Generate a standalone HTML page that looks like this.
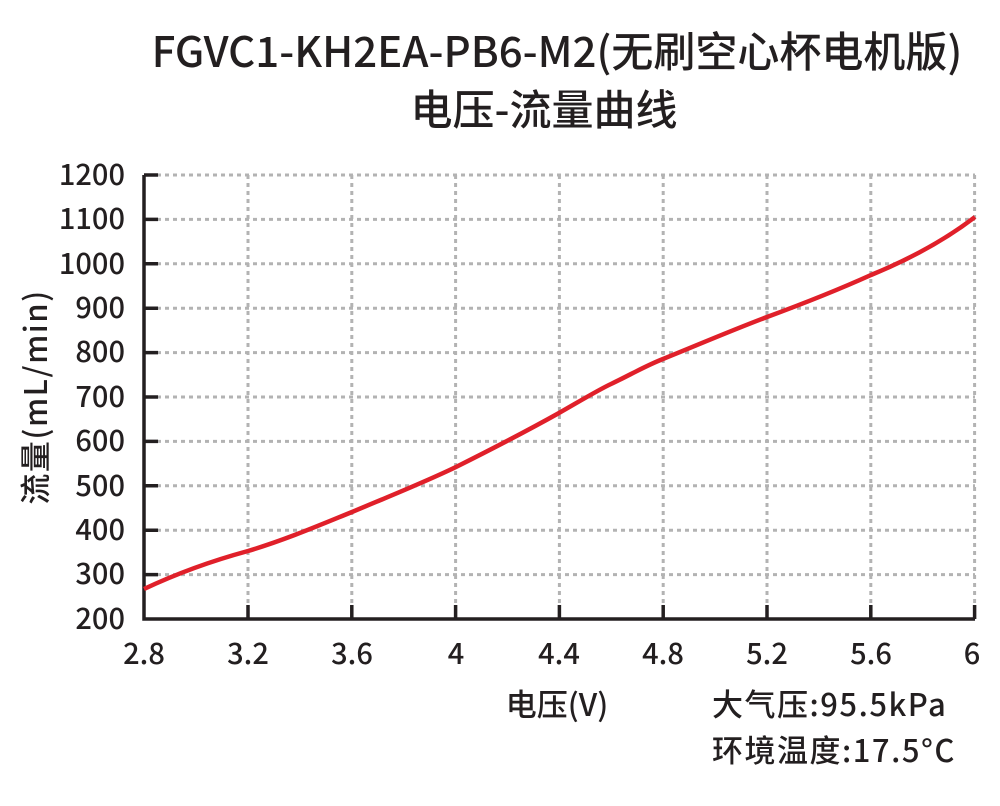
<!DOCTYPE html>
<html><head><meta charset="utf-8"><style>
body{margin:0;background:#fff;width:1000px;height:801px;overflow:hidden}
text{font-family:"Noto Sans CJK SC","Liberation Sans",sans-serif;fill:#231f20;font-weight:500}
</style></head><body>
<svg width="1000" height="801" viewBox="0 0 1000 801">
<text x="557" y="67" font-size="42" text-anchor="middle">FGVC1-KH2EA-PB6-M2(无刷空心杯电机版)</text>
<text x="544" y="125" font-size="42" text-anchor="middle">电压-流量曲线</text>
<g stroke="#b3b3b3" stroke-width="3" stroke-dasharray="4 4">
<line x1="157" y1="175" x2="975" y2="175"/><line x1="157" y1="219.4" x2="975" y2="219.4"/><line x1="157" y1="263.8" x2="975" y2="263.8"/><line x1="157" y1="308.2" x2="975" y2="308.2"/><line x1="157" y1="352.6" x2="975" y2="352.6"/><line x1="157" y1="397" x2="975" y2="397"/><line x1="157" y1="441.4" x2="975" y2="441.4"/><line x1="157" y1="485.8" x2="975" y2="485.8"/><line x1="157" y1="530.2" x2="975" y2="530.2"/><line x1="157" y1="574.6" x2="975" y2="574.6"/>
<line x1="248" y1="175" x2="248" y2="605"/><line x1="351.8" y1="175" x2="351.8" y2="605"/><line x1="455.6" y1="175" x2="455.6" y2="605"/><line x1="559.4" y1="175" x2="559.4" y2="605"/><line x1="663.2" y1="175" x2="663.2" y2="605"/><line x1="767" y1="175" x2="767" y2="605"/><line x1="870.8" y1="175" x2="870.8" y2="605"/><line x1="974.6" y1="175" x2="974.6" y2="605"/>
</g>
<g stroke="#231f20" stroke-width="3.5" fill="none">
<path d="M144 175V619H975"/>
<path d="M144 175h14M144 219.4h14M144 263.8h14M144 308.2h14M144 352.6h14M144 397h14M144 441.4h14M144 485.8h14M144 530.2h14M144 574.6h14"/>
<path d="M248 619v-14M351.8 619v-14M455.6 619v-14M559.4 619v-14M663.2 619v-14M767 619v-14M870.8 619v-14M974.6 619v-14"/>
</g>
<path d="M144 589 C180 572,215 560,248 551 C285 540,320 525,352 512 C390 496,425 482,456 467 C490 450,525 432,559 413 C580 401,600 389,611 384 C630 375,645 366,663 359 C700 344,730 331,767 317 C805 303,840 289,871 275 C910 259,945 240,975 217" stroke="#e0202a" stroke-width="4.5" fill="none"/>
<g font-size="29" text-anchor="end">
<text x="125" y="185">1200</text><text x="125" y="229">1100</text><text x="125" y="274">1000</text><text x="125" y="318">900</text><text x="125" y="362">800</text><text x="125" y="407">700</text><text x="125" y="451">600</text><text x="125" y="496">500</text><text x="125" y="540">400</text><text x="125" y="584">300</text><text x="125" y="629">200</text>
</g>
<g font-size="29" text-anchor="middle">
<text x="144" y="664">2.8</text><text x="248" y="664">3.2</text><text x="352" y="664">3.6</text><text x="456" y="664">4</text><text x="559" y="664">4.4</text><text x="663" y="664">4.8</text><text x="767" y="664">5.2</text><text x="871" y="664">5.6</text><text x="972" y="664">6</text>
</g>
<text transform="translate(47 397) rotate(-90)" font-size="31" letter-spacing="1.5" text-anchor="middle">流量(mL/min)</text>
<text x="557" y="716" font-size="31" text-anchor="middle">电压(V)</text>
<text x="712" y="716" font-size="31" letter-spacing="1.5">大气压:95.5kPa</text>
<text x="712" y="762" font-size="31" letter-spacing="1.5">环境温度:17.5°C</text>
</svg>
</body></html>
